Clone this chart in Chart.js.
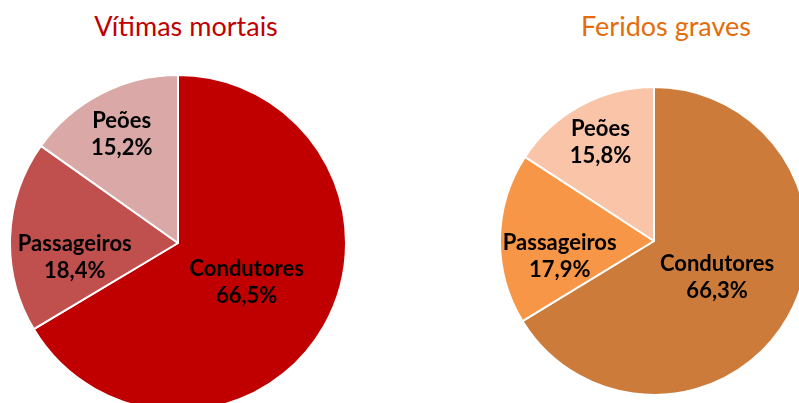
<!DOCTYPE html>
<html>
<head>
<meta charset="utf-8">
<script src="https://cdn.jsdelivr.net/npm/chart.js@4"></script>
<style>
  html, body { margin:0; padding:0; width:799px; height:403px; overflow:hidden; background:#ffffff; }
  .title { position:absolute; font-family: Lato, "Open Sans", sans-serif; font-size:27px; white-space:nowrap; transform:translateX(-50%); line-height:1; }
  canvas { position:absolute; }
</style>
</head>
<body>
<div class="title" id="t1" style="left:186px; top:12px; color:#C00000;"></div>
<div class="title" id="t2" style="left:666px; top:12px; color:#E46C0A;"></div>
<div id="w1" style="position:absolute; left:9px; top:74px; width:338px; height:338px;"><canvas id="c1"></canvas></div>
<div id="w2" style="position:absolute; left:499px; top:86px; width:310px; height:310px;"><canvas id="c2"></canvas></div>
<script>
const categories = ["Condutores", "Passageiros", "Peões"];
const titleMortais = "Vítimas mortais";
const titleFeridos = "Feridos graves";
const valuesMortais = [66.5, 18.4, 15.2];
const valuesFeridos = [66.3, 17.9, 15.8];

const colorsMortais = ["#C00000", "#C0504D", "#D9A8A7"];
const colorsFeridos = ["#CC7B3A", "#F79646", "#F9C4A8"];
// label placement: radius factor and angle shift (deg) per slice
const labelRadius = [0.47, 0.62, 0.73];
const labelShift = [0, -10, 0];

document.getElementById('t1').textContent = titleMortais;
document.getElementById('t2').textContent = titleFeridos;

const fmt = v => v.toFixed(1).replace('.', ',') + '%';

const labelPlugin = {
  id: 'sliceLabels',
  afterDatasetsDraw(chart) {
    const ctx = chart.ctx;
    const meta = chart.getDatasetMeta(0);
    const ds = chart.data.datasets[0];
    ctx.save();
    ctx.font = 'bold 22px Lato, "Open Sans", sans-serif';
    ctx.fillStyle = '#000000';
    ctx.textAlign = 'center';
    ctx.textBaseline = 'middle';
    meta.data.forEach((arc, i) => {
      const p = arc.getProps(['x','y','startAngle','endAngle','outerRadius'], true);
      const mid = (p.startAngle + p.endAngle) / 2 + labelShift[i] * Math.PI / 180;
      const r = p.outerRadius * labelRadius[i];
      const x = p.x + Math.cos(mid) * r;
      const y = p.y + Math.sin(mid) * r;
      ctx.fillText(chart.data.labels[i], x, y - 13);
      ctx.fillText(fmt(ds.data[i]), x, y + 14);
    });
    ctx.restore();
  }
};

function makePie(id, values, colors) {
  return new Chart(document.getElementById(id), {
    type: 'pie',
    data: {
      labels: categories,
      datasets: [{
        data: values,
        backgroundColor: colors,
        borderColor: '#ffffff',
        borderWidth: 2
      }]
    },
    options: {
      responsive: true,
      maintainAspectRatio: false,
      animation: false,
      layout: { padding: 0 },
      plugins: { legend: { display: false }, tooltip: { enabled: false } }
    },
    plugins: [labelPlugin]
  });
}
makePie('c1', valuesMortais, colorsMortais);
makePie('c2', valuesFeridos, colorsFeridos);
</script>
</body>
</html>
